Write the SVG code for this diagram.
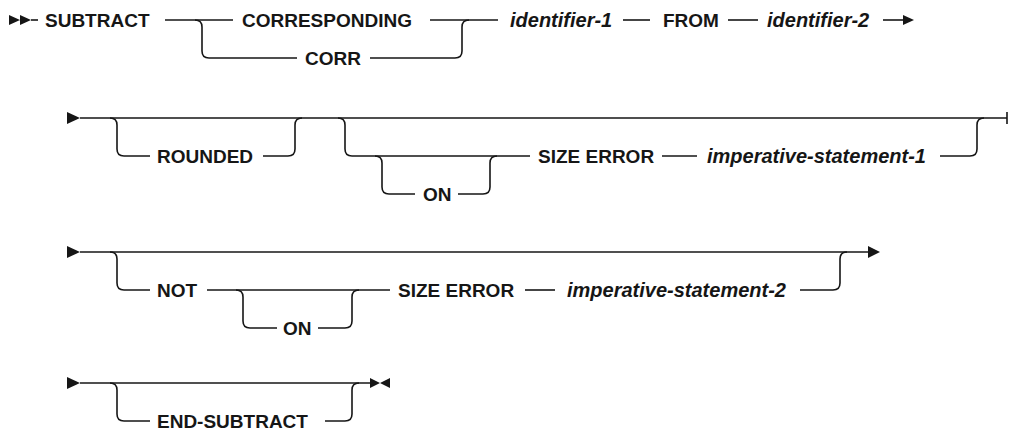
<svg xmlns="http://www.w3.org/2000/svg" width="1009" height="434" viewBox="0 0 1009 434">
<style>
.ln{fill:none;stroke:#161616;stroke-width:1.6}
.ah{fill:#161616;stroke:none}
.kw{font-family:"Liberation Sans",Arial,sans-serif;font-size:19px;font-weight:bold;fill:#161616}
.var{font-family:"Liberation Sans",Arial,sans-serif;font-size:20px;font-weight:bold;font-style:italic;fill:#161616}
</style>
<rect width="1009" height="434" fill="#ffffff"/>
<g id="connectors">
  <!-- row 1 -->
  <path class="ah" d="M9 15 L20 20 L9 25 Z M20 15 L31 20 L20 25 Z"/>
  <path class="ln" d="M31 20 H38"/>
  <path class="ln" d="M165 20 H233"/>
  <path class="ln" d="M195 20 Q202 20 202 27 V51 Q202 58 209 58 H297"/>
  <path class="ln" d="M370 58 H455 Q462 58 462 51 V27 Q462 20 469 20"/>
  <path class="ln" d="M430 20 H498"/>
  <path class="ln" d="M623 20 H650"/>
  <path class="ln" d="M728 20 H758"/>
  <path class="ln" d="M883 20 H904"/>
  <path class="ah" d="M903 15 L914 20 L903 25 Z"/>
  <!-- row 2 -->
  <path class="ah" d="M67 112 L80 118 L67 124 Z"/>
  <path class="ln" d="M80 118 H1007 M1007 112 V124"/>
  <path class="ln" d="M110 118 Q117 118 117 125 V149 Q117 156 124 156 H150"/>
  <path class="ln" d="M263 156 H288 Q295 156 295 149 V125 Q295 118 302 118"/>
  <path class="ln" d="M338 118 Q345 118 345 125 V149 Q345 156 352 156 H530"/>
  <path class="ln" d="M375 156 Q382 156 382 163 V187 Q382 194 389 194 H415"/>
  <path class="ln" d="M458 194 H483 Q490 194 490 187 V163 Q490 156 497 156"/>
  <path class="ln" d="M662 156 H697"/>
  <path class="ln" d="M940 156 H970 Q977 156 977 149 V125 Q977 118 984 118"/>
  <!-- row 3 -->
  <path class="ah" d="M67 246 L80 252 L67 258 Z"/>
  <path class="ln" d="M80 252 H869"/>
  <path class="ah" d="M868 246 L880 252 L868 258 Z"/>
  <path class="ln" d="M110 252 Q117 252 117 259 V283 Q117 290 124 290 H150"/>
  <path class="ln" d="M207 290 H390"/>
  <path class="ln" d="M236 290 Q243 290 243 297 V321 Q243 328 250 328 H277"/>
  <path class="ln" d="M318 328 H345 Q352 328 352 321 V297 Q352 290 359 290"/>
  <path class="ln" d="M525 290 H555"/>
  <path class="ln" d="M800 290 H833 Q840 290 840 283 V259 Q840 252 847 252"/>
  <!-- row 4 -->
  <path class="ah" d="M67 377 L80 383 L67 389 Z"/>
  <path class="ln" d="M80 383 H372"/>
  <path class="ln" d="M110 383 Q117 383 117 390 V414 Q117 421 124 421 H150"/>
  <path class="ln" d="M325 421 H345 Q352 421 352 414 V390 Q352 383 359 383"/>
  <path class="ah" d="M370 378 L380 383 L370 388 Z M390 378 L380 383 L390 388 Z"/>
</g>
<g id="n-subtract"><text class="kw" x="45" y="27">SUBTRACT</text></g>
<g id="n-corresponding"><text class="kw" x="242" y="27">CORRESPONDING</text></g>
<g id="n-corr"><text class="kw" x="305" y="65">CORR</text></g>
<g id="n-identifier-1"><text class="var" x="510" y="27">identifier-1</text></g>
<g id="n-from"><text class="kw" x="663" y="27">FROM</text></g>
<g id="n-identifier-2"><text class="var" x="767" y="27">identifier-2</text></g>
<g id="n-rounded"><text class="kw" x="157" y="163">ROUNDED</text></g>
<g id="n-on-1"><text class="kw" x="423" y="201">ON</text></g>
<g id="n-size-error-1"><text class="kw" x="538" y="163">SIZE ERROR</text></g>
<g id="n-imperative-1"><text class="var" x="707" y="163">imperative-statement-1</text></g>
<g id="n-not"><text class="kw" x="157" y="297">NOT</text></g>
<g id="n-on-2"><text class="kw" x="283" y="335">ON</text></g>
<g id="n-size-error-2"><text class="kw" x="398" y="297">SIZE ERROR</text></g>
<g id="n-imperative-2"><text class="var" x="567" y="297">imperative-statement-2</text></g>
<g id="n-end-subtract"><text class="kw" x="157" y="428">END-SUBTRACT</text></g>
</svg>
